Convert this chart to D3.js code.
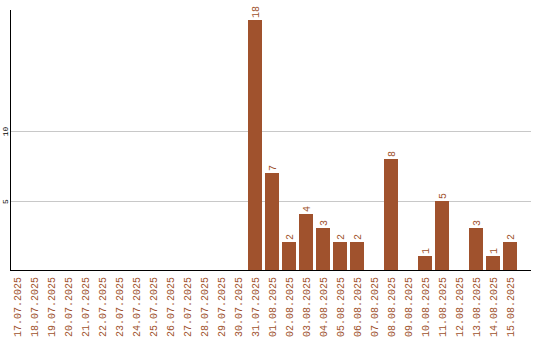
<!DOCTYPE html>
<html>
<head>
<meta charset="utf-8">
<script src="https://cdn.jsdelivr.net/npm/d3@7"></script>
<style>
body { margin: 0; background: #fff; }
</style>
</head>
<body>
<div class="d3"></div>
<script>
var dates = ["17.07.2025","18.07.2025","19.07.2025","20.07.2025","21.07.2025","22.07.2025",
	"23.07.2025","24.07.2025","25.07.2025","26.07.2025","27.07.2025","28.07.2025","29.07.2025",
	"30.07.2025","31.07.2025","01.08.2025","02.08.2025","03.08.2025","04.08.2025","05.08.2025",
	"06.08.2025","07.08.2025","08.08.2025","09.08.2025","10.08.2025","11.08.2025","12.08.2025",
	"13.08.2025","14.08.2025","15.08.2025"];
var counts = [0,0,0,0,0,0,0,0,0,0,0,0,0,0,18,7,2,4,3,2,2,0,8,0,1,5,0,3,1,2];
var yTicks = [5, 10];

var w = 540, h = 340;
var plotLeft = 10, plotRight = 531, plotTop = 10, plotBottom = 270;
var barColor = "#a0522d";
var fontFam = "Liberation Mono, DejaVu Sans Mono, monospace";

var dataset = dates.map((d, i) => ({date: d, count: counts[i]}));

var svg = d3.select(".d3")
	.append("svg")
	.attr("width", w)
	.attr("height", h);

var xScale = d3.scaleBand()
	.domain(dates)
	.range([plotLeft, plotLeft + 30 * 17 - 3])
	.paddingInner(0.176)
	.paddingOuter(0);

var yScale = d3.scaleLinear()
	.domain([0, 18.72])
	.range([plotBottom, plotTop]);

// grid lines
svg.append("g")
	.selectAll("line")
	.data(yTicks)
	.enter().append("line")
	.attr("x1", plotLeft)
	.attr("x2", plotRight)
	.attr("y1", d => Math.round(yScale(d)) + 0.5)
	.attr("y2", d => Math.round(yScale(d)) + 0.5)
	.attr("stroke", "#c8c8c8")
	.attr("stroke-width", 1);

// y tick labels
svg.append("g")
	.selectAll("text")
	.data(yTicks)
	.enter().append("text")
	.attr("transform", d => "translate(8," + (Math.round(yScale(d)) + 0.5) + ") rotate(-90)")
	.attr("text-anchor", "middle")
	.attr("font-family", fontFam)
	.attr("font-size", "8px")
	.attr("fill", "#000")
	.text(d => d);

// bars
svg.append("g")
	.selectAll("rect")
	.data(dataset.filter(d => d.count > 0))
	.enter().append("rect")
	.attr("x", d => Math.round(xScale(d.date)))
	.attr("y", d => Math.round(yScale(d.count)))
	.attr("width", Math.round(xScale.bandwidth()))
	.attr("height", d => plotBottom - Math.round(yScale(d.count)))
	.attr("fill", barColor);

// value labels
svg.append("g")
	.selectAll("text")
	.data(dataset.filter(d => d.count > 0))
	.enter().append("text")
	.attr("transform", d => "translate(" + (Math.round(xScale(d.date)) + xScale.bandwidth() / 2 + 4) + "," + (Math.round(yScale(d.count)) - 2) + ") rotate(-90)")
	.attr("text-anchor", "start")
	.attr("font-family", fontFam)
	.attr("font-size", "10px")
	.attr("fill", barColor)
	.text(d => d.count);

// axes lines
svg.append("line")
	.attr("x1", plotLeft + 0.5).attr("x2", plotLeft + 0.5)
	.attr("y1", plotTop).attr("y2", plotBottom + 1)
	.attr("stroke", "#000");
svg.append("line")
	.attr("x1", plotLeft).attr("x2", plotRight)
	.attr("y1", plotBottom + 0.5).attr("y2", plotBottom + 0.5)
	.attr("stroke", "#000");

// x labels
svg.append("g")
	.selectAll("text")
	.data(dates)
	.enter().append("text")
	.attr("transform", d => "translate(" + (Math.round(xScale(d)) + xScale.bandwidth() / 2 + 4) + "," + (plotBottom + 7) + ") rotate(-90)")
	.attr("text-anchor", "end")
	.attr("font-family", fontFam)
	.attr("font-size", "10px")
	.attr("fill", barColor)
	.text(d => d);
</script>
</body>
</html>
